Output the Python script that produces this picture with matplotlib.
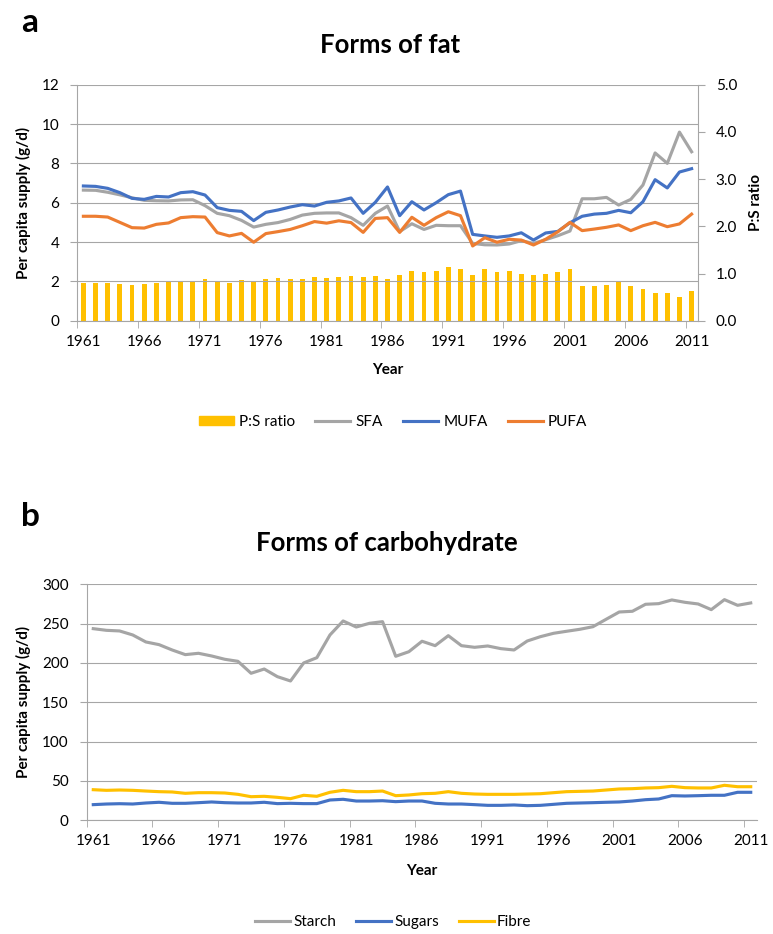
import numpy as np
import matplotlib.pyplot as plt
from matplotlib.patches import Patch
from matplotlib.lines import Line2D

plt.rcParams['font.family'] = ['Lato', 'DejaVu Sans']

years = np.arange(1961, 2012)

# panel a - forms of fat (g/d), P:S ratio on right axis
sfa = [6.64, 6.63, 6.53, 6.40, 6.25, 6.12, 6.10, 6.09, 6.14, 6.15,
       5.85, 5.46, 5.34, 5.10, 4.76, 4.90, 4.99, 5.15, 5.37, 5.46,
       5.48, 5.48, 5.24, 4.85, 5.46, 5.83, 4.53, 4.93, 4.64, 4.85,
       4.83, 4.83, 3.93, 3.86, 3.85, 3.90, 4.07, 3.93, 4.12, 4.32,
       4.56, 6.20, 6.20, 6.27, 5.88, 6.17, 6.90, 8.53, 8.00, 9.59, 8.59]
mufa = [6.85, 6.83, 6.73, 6.51, 6.22, 6.17, 6.32, 6.29, 6.51, 6.56,
        6.39, 5.75, 5.61, 5.56, 5.09, 5.51, 5.63, 5.78, 5.90, 5.83,
        6.02, 6.09, 6.24, 5.46, 6.02, 6.80, 5.34, 6.05, 5.63, 6.00,
        6.41, 6.59, 4.39, 4.31, 4.24, 4.31, 4.47, 4.10, 4.46, 4.54,
        4.98, 5.31, 5.42, 5.46, 5.61, 5.49, 6.05, 7.17, 6.75, 7.56, 7.73]
pufa = [5.31, 5.31, 5.27, 5.00, 4.73, 4.71, 4.90, 4.97, 5.24, 5.29,
        5.27, 4.48, 4.31, 4.44, 3.99, 4.43, 4.53, 4.64, 4.83, 5.04,
        4.96, 5.08, 4.99, 4.49, 5.20, 5.24, 4.49, 5.26, 4.85, 5.24,
        5.54, 5.34, 3.80, 4.22, 3.99, 4.14, 4.10, 3.85, 4.14, 4.52,
        5.00, 4.58, 4.66, 4.75, 4.87, 4.58, 4.83, 5.00, 4.78, 4.92, 5.42]
ps_ratio = [0.79, 0.79, 0.80, 0.78, 0.76, 0.77, 0.79, 0.81, 0.84, 0.85,
            0.88, 0.81, 0.80, 0.86, 0.84, 0.88, 0.90, 0.88, 0.88, 0.92,
            0.90, 0.92, 0.95, 0.92, 0.95, 0.88, 0.96, 1.05, 1.03, 1.06,
            1.13, 1.09, 0.96, 1.09, 1.03, 1.05, 0.99, 0.97, 0.99, 1.04,
            1.09, 0.73, 0.74, 0.75, 0.82, 0.73, 0.68, 0.58, 0.59, 0.50, 0.63]

# panel b - forms of carbohydrate (g/d)
starch = [243.6, 241.5, 240.7, 235.6, 226.7, 223.3, 216.5, 210.6, 212.3, 208.9,
          204.7, 202.1, 186.9, 192.3, 182.6, 177.1, 200.0, 206.7, 235.6, 253.4,
          245.7, 250.4, 252.5, 208.5, 214.3, 227.6, 222.0, 234.7, 222.0, 219.9,
          221.6, 218.2, 216.5, 227.9, 233.4, 237.7, 240.3, 242.8, 246.1, 255.5,
          264.8, 265.7, 274.6, 275.4, 280.1, 277.1, 275.0, 267.8, 280.5, 273.3, 276.3]
sugars = [19.9, 20.7, 21.1, 20.7, 22.0, 22.9, 21.6, 21.6, 22.4, 23.3,
          22.4, 22.0, 22.0, 22.9, 21.2, 21.6, 21.2, 21.2, 25.8, 26.7,
          24.5, 24.5, 24.9, 23.7, 24.5, 24.5, 21.6, 20.7, 20.7, 19.9,
          19.0, 19.0, 19.5, 18.6, 19.0, 20.3, 21.6, 22.0, 22.4, 22.9,
          23.3, 24.5, 26.2, 27.1, 31.3, 30.9, 31.3, 31.8, 31.8, 35.6, 35.6]
fibre = [38.9, 38.1, 38.5, 38.1, 37.2, 36.4, 36.0, 34.3, 35.1, 35.1,
         34.7, 33.0, 30.0, 30.5, 29.2, 27.5, 31.8, 30.5, 35.6, 38.1,
         36.4, 36.4, 37.2, 31.3, 32.2, 33.8, 34.3, 36.4, 34.3, 33.4,
         33.0, 33.0, 33.0, 33.4, 33.8, 35.1, 36.4, 36.8, 37.2, 38.5,
         39.8, 40.2, 41.1, 41.5, 43.2, 41.5, 41.1, 41.1, 44.5, 42.7, 42.7]

GREY = '#a5a5a5'
BLUE = '#4472c4'
ORANGE = '#ed7d31'
GOLD = '#ffc000'
GRID = '#a6a6a6'
FS = 11

W, H = 773, 934
fig = plt.figure(figsize=(W / 100, H / 100), dpi=100)


def box(l, t, r, b):
    return [l / W, 1 - b / H, (r - l) / W, (b - t) / H]


def pos(x, y):
    return x / W, 1 - y / H


def style(ax, ymax, ystep):
    n = len(years)
    ax.set_xlim(-0.5, n - 0.5)
    ax.set_ylim(0, ymax)
    ax.set_yticks(np.arange(0, ymax + ystep / 2, ystep))
    ax.yaxis.grid(True, color=GRID, lw=0.8)
    ax.set_axisbelow(True)
    ax.set_xticks(np.arange(0, n, 5))
    ax.set_xticklabels([str(y) for y in years[::5]])
    ax.set_xticks(np.arange(-0.5, n - 1, 5), minor=True)
    ax.tick_params(axis='x', which='major', length=0, pad=10, labelsize=FS)
    ax.tick_params(axis='x', which='minor', length=5, color=GRID)
    ax.tick_params(axis='y', length=5, color=GRID, pad=8, labelsize=FS)
    for s in ['top', 'right']:
        ax.spines[s].set_visible(False)
    for s in ['left', 'bottom']:
        ax.spines[s].set_color(GRID)
        ax.spines[s].set_linewidth(0.8)


x = np.arange(len(years))

# ---- panel a ----
ax1 = fig.add_axes(box(77.3, 84.7, 697.7, 320.7))
style(ax1, 12, 2)
ax1.plot(x, sfa, color=GREY, lw=2.25, zorder=3)
ax1.plot(x, mufa, color=BLUE, lw=2.25, zorder=3)
ax1.plot(x, pufa, color=ORANGE, lw=2.25, zorder=3)

ax1r = ax1.twinx()
ax1r.bar(x, ps_ratio, width=0.4, color=GOLD, zorder=2)
ax1r.set_ylim(0, 5)
ax1r.set_yticks(np.arange(0, 5.01, 1))
ax1r.set_yticklabels(['%.1f' % v for v in np.arange(0, 5.01, 1)])
ax1r.tick_params(axis='y', length=5, color=GRID, pad=8, labelsize=FS)
for s in ['top', 'left', 'bottom']:
    ax1r.spines[s].set_visible(False)
ax1r.spines['right'].set_color(GRID)
ax1r.spines['right'].set_linewidth(0.8)
ax1.set_zorder(ax1r.get_zorder() + 1)
ax1.patch.set_visible(False)

fig.text(*pos(30, 22), 'a', fontsize=24, fontweight='bold', ha='center', va='center')
fig.text(*pos(390, 45), 'Forms of fat', fontsize=18.5, fontweight='bold', ha='center', va='center')
fig.text(*pos(23, 202.7), 'Per capita supply (g/d)', fontsize=FS, fontweight='bold',
         rotation=90, ha='center', va='center')
fig.text(*pos(756, 202.7), 'P:S ratio', fontsize=FS, fontweight='bold',
         rotation=90, ha='center', va='center')
fig.text(*pos(387.5, 370), 'Year', fontsize=FS, fontweight='bold', ha='center', va='center')

handles_a = [Patch(color=GOLD, label='P:S ratio'),
             Line2D([], [], color=GREY, lw=2.25, label='SFA'),
             Line2D([], [], color=BLUE, lw=2.25, label='MUFA'),
             Line2D([], [], color=ORANGE, lw=2.25, label='PUFA')]
fig.legend(handles=handles_a, loc='center', bbox_to_anchor=pos(393, 422), ncol=4,
           frameon=False, fontsize=FS, handlelength=2.3, handletextpad=0.35,
           columnspacing=1.3, handleheight=0.6)

# ---- panel b ----
ax2 = fig.add_axes(box(86.7, 584.3, 757.3, 820.3))
style(ax2, 300, 50)
ax2.plot(x, starch, color=GREY, lw=2.25)
ax2.plot(x, sugars, color=BLUE, lw=2.25)
ax2.plot(x, fibre, color=GOLD, lw=2.25)

fig.text(*pos(30, 517), 'b', fontsize=24, fontweight='bold', ha='center', va='center')
fig.text(*pos(387, 543), 'Forms of carbohydrate', fontsize=18.5, fontweight='bold',
         ha='center', va='center')
fig.text(*pos(23, 702.3), 'Per capita supply (g/d)', fontsize=FS, fontweight='bold',
         rotation=90, ha='center', va='center')
fig.text(*pos(422, 871), 'Year', fontsize=FS, fontweight='bold', ha='center', va='center')

handles_b = [Line2D([], [], color=GREY, lw=2.25, label='Starch'),
             Line2D([], [], color=BLUE, lw=2.25, label='Sugars'),
             Line2D([], [], color=GOLD, lw=2.25, label='Fibre')]
fig.legend(handles=handles_b, loc='center', bbox_to_anchor=pos(393, 922), ncol=3,
           frameon=False, fontsize=FS, handlelength=2.3, handletextpad=0.2,
           columnspacing=1.3)

fig.savefig('out.png', dpi=100)
